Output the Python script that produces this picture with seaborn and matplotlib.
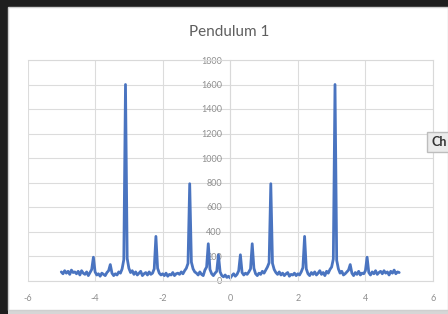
import numpy as np
import seaborn as sns
import matplotlib.pyplot as plt
from matplotlib.patches import Rectangle

# Spectrum samples (x from -5 to 5, step 0.05)
freq = [
    -5.00, -4.95, -4.90, -4.85, -4.80, -4.75, -4.70, -4.65, -4.60, -4.55,
    -4.50, -4.45, -4.40, -4.35, -4.30, -4.25, -4.20, -4.15, -4.10, -4.05,
    -4.00, -3.95, -3.90, -3.85, -3.80, -3.75, -3.70, -3.65, -3.60, -3.55,
    -3.50, -3.45, -3.40, -3.35, -3.30, -3.25, -3.20, -3.15, -3.10, -3.05,
    -3.00, -2.95, -2.90, -2.85, -2.80, -2.75, -2.70, -2.65, -2.60, -2.55,
    -2.50, -2.45, -2.40, -2.35, -2.30, -2.25, -2.20, -2.15, -2.10, -2.05,
    -2.00, -1.95, -1.90, -1.85, -1.80, -1.75, -1.70, -1.65, -1.60, -1.55,
    -1.50, -1.45, -1.40, -1.35, -1.30, -1.25, -1.20, -1.15, -1.10, -1.05,
    -1.00, -0.95, -0.90, -0.85, -0.80, -0.75, -0.70, -0.65, -0.60, -0.55,
    -0.50, -0.45, -0.40, -0.35, -0.30, -0.25, -0.20, -0.15, -0.10, -0.05,
    0.00, 0.05, 0.10, 0.15, 0.20, 0.25, 0.30, 0.35, 0.40, 0.45,
    0.50, 0.55, 0.60, 0.65, 0.70, 0.75, 0.80, 0.85, 0.90, 0.95,
    1.00, 1.05, 1.10, 1.15, 1.20, 1.25, 1.30, 1.35, 1.40, 1.45,
    1.50, 1.55, 1.60, 1.65, 1.70, 1.75, 1.80, 1.85, 1.90, 1.95,
    2.00, 2.05, 2.10, 2.15, 2.20, 2.25, 2.30, 2.35, 2.40, 2.45,
    2.50, 2.55, 2.60, 2.65, 2.70, 2.75, 2.80, 2.85, 2.90, 2.95,
    3.00, 3.05, 3.10, 3.15, 3.20, 3.25, 3.30, 3.35, 3.40, 3.45,
    3.50, 3.55, 3.60, 3.65, 3.70, 3.75, 3.80, 3.85, 3.90, 3.95,
    4.00, 4.05, 4.10, 4.15, 4.20, 4.25, 4.30, 4.35, 4.40, 4.45,
    4.50, 4.55, 4.60, 4.65, 4.70, 4.75, 4.80, 4.85, 4.90, 4.95,
    5.00,
]
amplitude = [
    70, 55, 80, 60, 75, 50, 85, 65, 70, 55,
    75, 45, 80, 60, 50, 70, 40, 65, 90, 190,
    70, 45, 55, 35, 60, 50, 40, 65, 80, 130,
    60, 40, 55, 45, 70, 60, 95, 170, 1600, 180,
    100, 65, 80, 50, 70, 45, 60, 75, 40, 55,
    65, 45, 70, 50, 60, 95, 360, 100, 60, 45,
    55, 40, 60, 35, 50, 45, 65, 40, 55, 60,
    50, 70, 55, 80, 100, 140, 790, 150, 95, 70,
    60, 45, 70, 50, 40, 85, 110, 300, 90, 55,
    40, 60, 75, 210, 70, 40, 30, 45, 25, 35,
    20, 40, 55, 35, 50, 80, 210, 65, 45, 60,
    50, 70, 95, 300, 100, 55, 40, 60, 50, 75,
    60, 85, 110, 145, 790, 140, 90, 65, 50, 70,
    45, 60, 40, 55, 65, 35, 50, 45, 60, 40,
    55, 45, 70, 105, 360, 95, 55, 40, 65, 50,
    70, 45, 60, 80, 50, 65, 40, 75, 60, 90,
    110, 175, 1600, 165, 95, 60, 75, 45, 55, 70,
    85, 130, 60, 40, 65, 50, 75, 45, 60, 55,
    80, 190, 65, 45, 70, 55, 80, 50, 65, 75,
    55, 80, 60, 70, 45, 75, 60, 85, 55, 70,
    65,
]
x_ticks = [-6, -4, -2, 0, 2, 4, 6]
y_ticks = [0, 200, 400, 600, 800, 1000, 1200, 1400, 1600, 1800]
title = "Pendulum 1"

sns.set_style("white")
plt.rcParams['font.family'] = ['Lato', 'DejaVu Sans']
plt.rcParams['axes.unicode_minus'] = False

fig = plt.figure(figsize=(4.48, 3.14), dpi=100, facecolor="#1e1e1e")

# Excel chart area (white card inside the dark window)
fig.patches.append(Rectangle((8 / 448, 0), 1 - 8 / 448, 4 / 314, transform=fig.transFigure,
                             facecolor="#d6d6d6", edgecolor="none", zorder=-2))
fig.patches.append(Rectangle((8 / 448, 4 / 314), 1 - 8 / 448, 303 / 314, transform=fig.transFigure,
                             facecolor="white", edgecolor="#cfcfcf", linewidth=1.0, zorder=-1))

ax = fig.add_axes([27.5 / 448, 33.5 / 314, 405.5 / 448, 220.5 / 314])
ax.set_facecolor("none")
ax.set_zorder(2)

sns.lineplot(x=freq, y=amplitude, ax=ax, color="#4a74c0", linewidth=2.0)

ax.set_xlim(-6, 6)
ax.set_ylim(0, 1800)
ax.set_xticks(x_ticks)
ax.set_yticks(y_ticks)
ax.set_xticklabels([str(v) for v in x_ticks])
ax.set_yticklabels([str(v) for v in y_ticks])
ax.grid(True, color="#dcdcdc", linewidth=0.8)
ax.set_axisbelow(True)

for side in ["top", "right", "bottom"]:
    ax.spines[side].set_color("#d9d9d9")
    ax.spines[side].set_linewidth(0.8)
ax.spines["left"].set_position(("data", 0))
ax.spines["left"].set_color("#d9d9d9")
ax.spines["left"].set_linewidth(0.8)

ax.tick_params(axis="y", length=0, pad=6, labelsize=6.5, labelcolor="#8f8f8f")
ax.tick_params(axis="x", length=0, pad=10, labelsize=6.5, labelcolor="#8f8f8f")

fig.text(229 / 448, 1 - 32 / 314, title, ha="center", va="center",
         fontsize=11, color="#5f5f5f")

# little "Ch" button poking in on the right edge
fig.text(431 / 448, 1 - 142 / 314, "Ch", ha="left", va="center", fontsize=9,
         fontweight="bold", color="#333333", zorder=3,
         bbox=dict(boxstyle="square,pad=0.35", facecolor="#ebebeb", edgecolor="#bdbdbd"))

fig.savefig("out.png", dpi=100, facecolor=fig.get_facecolor())
